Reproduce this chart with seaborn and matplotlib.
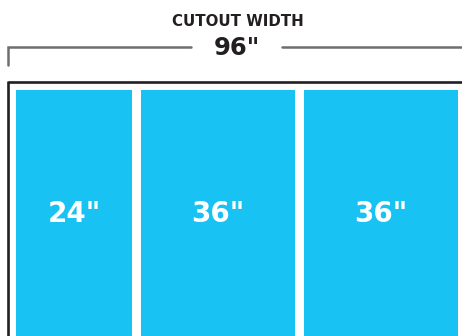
import pandas as pd
import seaborn as sns
import matplotlib.pyplot as plt

# panel sizes (inches) and their labels
panel_sizes = [24, 36, 36]
panel_labels = ['24"', '36"', '36"']
total_label = '96"'
title_text = 'CUTOUT WIDTH'

# layout in pixels (drawing is not to scale)
panel_px = [116, 154, 154]
gap_px = 9
first_left = 16
panel_top = 90

sns.set_theme(style='white')
plt.rcParams['font.family'] = ['DejaVu Sans']

fig = plt.figure(figsize=(4.62, 3.36), dpi=100)
ax = fig.add_axes([0, 0, 1, 1])

df = pd.DataFrame({'panel': panel_labels, 'size': panel_sizes, 'idx': range(len(panel_sizes))})
sns.barplot(data=df, x='idx', y='size', color='#18C2F2', saturation=1, ax=ax, linewidth=0)

# reposition bars as the panels of the cutout
left = first_left
for patch, w, lab in zip(ax.patches, panel_px, df['panel']):
    patch.set_x(left)
    patch.set_width(w)
    patch.set_y(panel_top)
    patch.set_height(336 - panel_top + 10)
    ax.text(left + w / 2, 214.5, lab, color='white', fontsize=20, fontweight='heavy',
            ha='center', va='center')
    left += w + gap_px

ax.set_xlim(0, 462)
ax.set_ylim(336, 0)
ax.axis('off')

# frame around the opening
frame_col = '#231f20'
ax.plot([8, 470], [82, 82], color=frame_col, lw=1.9, solid_capstyle='butt')
ax.plot([8, 8], [81, 340], color=frame_col, lw=1.9, solid_capstyle='butt')

# dimension bracket
grey = '#6d6e71'
ax.plot([8, 8, 191], [65, 46.5, 46.5], color=grey, lw=1.8, solid_joinstyle='miter')
ax.plot([282, 470], [46.5, 46.5], color=grey, lw=1.8)

ax.text(237.5, 21, title_text, color='#231f20', fontsize=10.8, fontweight='bold',
        ha='center', va='center')
ax.text(236.5, 48, total_label, color='#231f20', fontsize=17.5, fontweight='bold',
        ha='center', va='center')

fig.savefig('out.png', dpi=100)
